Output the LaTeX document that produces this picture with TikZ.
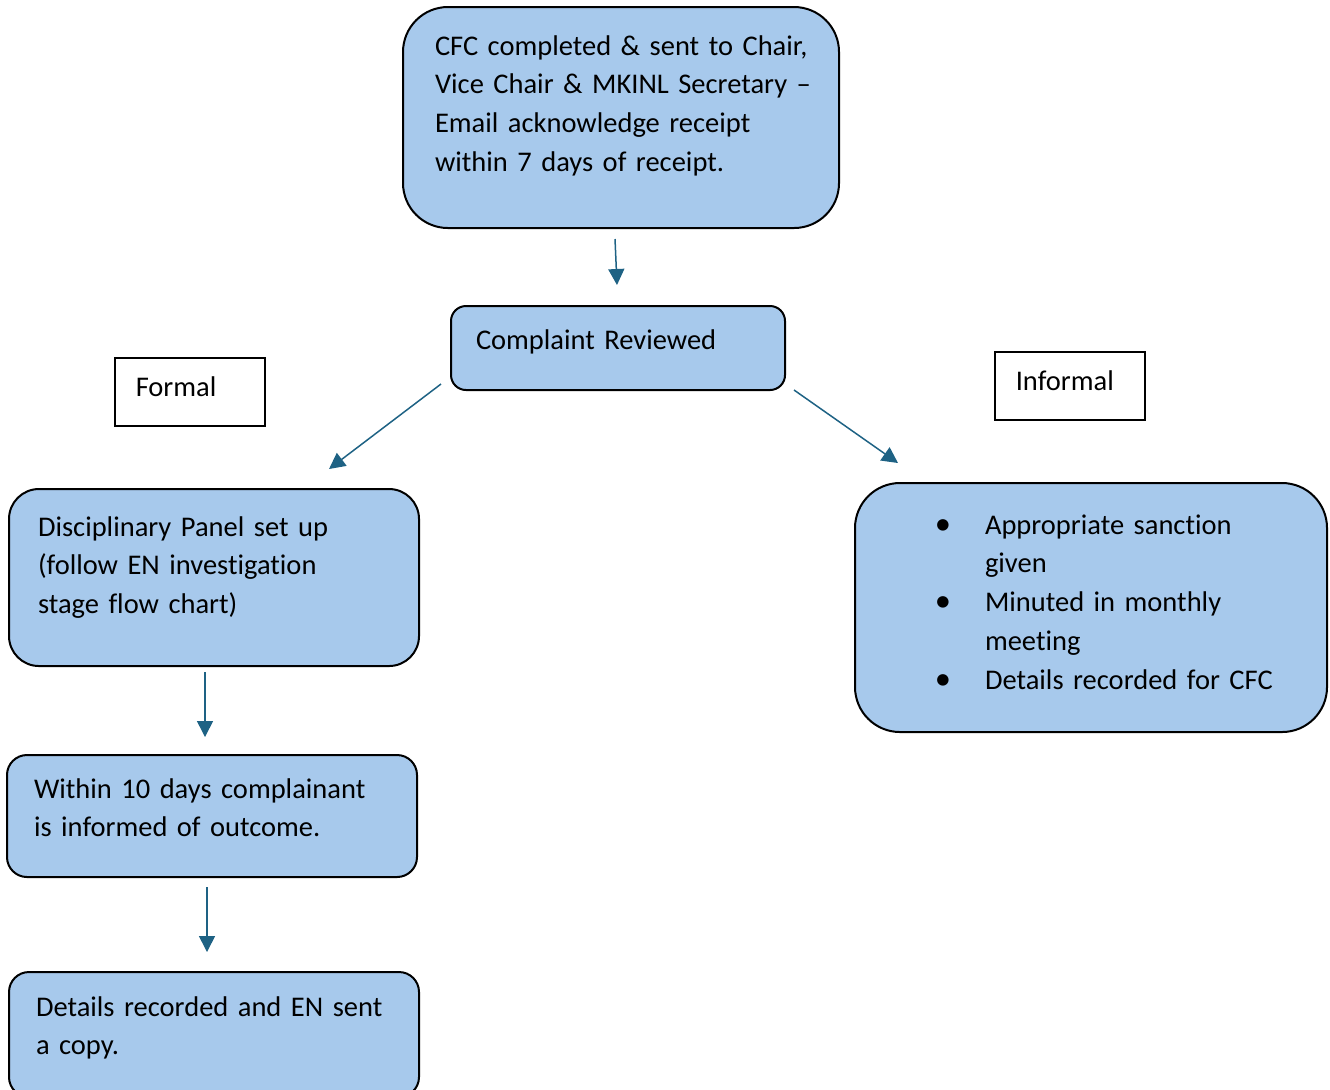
\documentclass[tikz,border=0pt]{standalone}
\usepackage{fontspec}
\setmainfont{Carlito}[Ligatures={TeX,NoCommon}, WordSpace=0.85]
\usetikzlibrary{arrows.meta}

\definecolor{boxblue}{RGB}{167,201,236}
\definecolor{arrowblue}{RGB}{30,98,132}

\newcommand\listdot{\makebox[28pt][l]{\makebox[22.4pt][c]{\fontsize{13}{13}\selectfont •}}}
\newcommand\listgap{\hspace*{28pt}}

\tikzset{
  flowbox/.style={draw=black, fill=boxblue, line width=0.8pt, anchor=north west, align=left, inner ysep=0pt},
  labelbox/.style={draw=black, fill=white, line width=0.6pt, anchor=north west, align=left, inner ysep=0pt},
  flow/.style={draw=arrowblue, line width=0.6pt, -{Triangle[length=6.4pt,width=6.4pt]}}
}

\begin{document}
\begin{tikzpicture}[x=0.4pt, y=-0.4pt, font=\fontsize{11.4}{15.5}\selectfont]
\useasboundingbox (0,0) rectangle (1330,1089);

% boxes
\node[flowbox, rounded corners=18pt, inner xsep=12.8pt, text width=148.8pt, text height=19.2pt, text depth=69.2pt] (cfc) at (402,6)
  {\mbox{CFC completed \& sent to Chair,}\\ \mbox{Vice Chair \& MKINL Secretary --}\\ \mbox{Email acknowledge receipt}\\ \mbox{within 7 days of receipt.}};
\node[flowbox, rounded corners=6pt, inner xsep=10pt, text width=113.6pt, text height=17.2pt, text depth=16.4pt] (rev) at (450,305)
  {Complaint Reviewed};
\node[labelbox, inner xsep=8.4pt, text width=43.2pt, text height=15.6pt, text depth=11.6pt] (formal) at (114,357) {Formal};
\node[labelbox, inner xsep=8.4pt, text width=43.2pt, text height=15.6pt, text depth=11.6pt] (informal) at (994,351) {Informal};

\node[flowbox, rounded corners=12pt, inner xsep=11.6pt, text width=140.8pt, text height=18.8pt, text depth=52pt] (panel) at (8,488)
  {\mbox{Disciplinary Panel set up}\\ \mbox{(follow EN investigation}\\ stage flow chart)};
\node[flowbox, rounded corners=8pt, inner xsep=10.8pt, text width=142.4pt, text height=17.2pt, text depth=31.6pt] (inform) at (6,754)
  {\mbox{Within 10 days complainant}\\ is informed of outcome.};
\node[flowbox, rounded corners=8pt, inner xsep=10.8pt, text width=142.4pt, text height=17.6pt, text depth=32.4pt] (record) at (8,971)
  {\mbox{Details recorded and EN sent}\\ a copy.};

\node[flowbox, rounded corners=18pt, inner xsep=24pt, text width=140.8pt, text height=20.4pt, text depth=79.2pt] (sanction) at (854,482)
  {\listdot\mbox{Appropriate sanction}\\ \listgap given\\ \listdot\mbox{Minuted in monthly}\\ \listgap meeting\\ \listdot\mbox{Details recorded for CFC}};

% arrows
\draw[flow] ([shift={(-6,10)}]cfc.south) -- ([shift={(-1,-20)}]rev.north);
\draw[flow] ([shift={(-9,-7)}]rev.south west) -- ([shift={(-91,-19)}]panel.north east);
\draw[flow] ([shift={(8,-1)}]rev.south east) -- ([shift={(44,-19)}]sanction.north west);
\draw[flow] ([shift={(-9,5)}]panel.south) -- ([shift={(-7,-17)}]inform.north);
\draw[flow] ([shift={(-5,9)}]inform.south) -- ([shift={(-7,-19)}]record.north);
\end{tikzpicture}
\end{document}
